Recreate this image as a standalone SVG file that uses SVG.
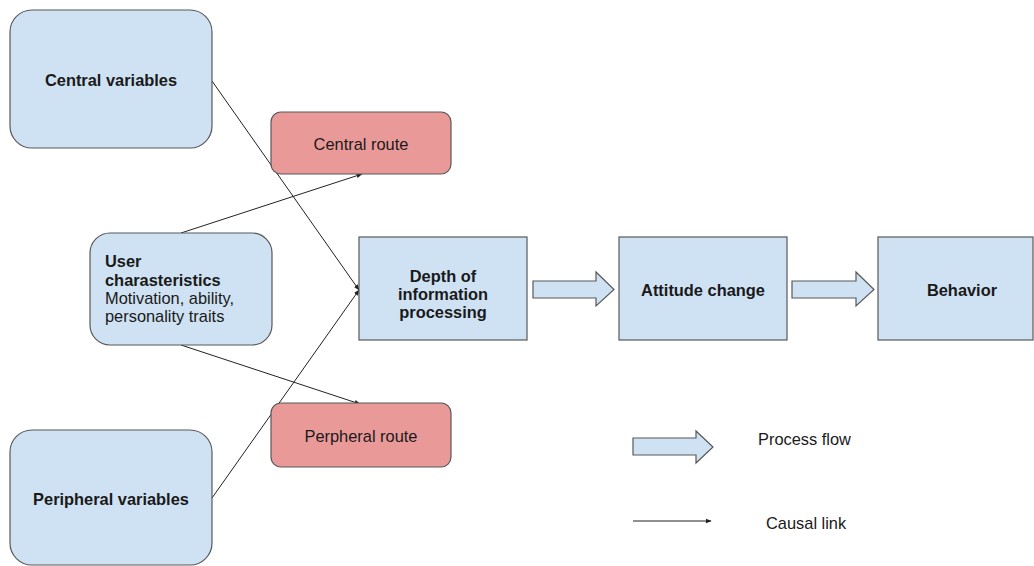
<svg xmlns="http://www.w3.org/2000/svg" width="1034" height="566" viewBox="0 0 1034 566">
  <style>
    .blue { fill: #cfe2f3; stroke: #595959; stroke-width: 1.2; }
    .red { fill: #ea9999; stroke: #595959; stroke-width: 1.2; }
    .b { font-family: "Liberation Sans", Arial, sans-serif; font-size: 16.4px; font-weight: bold; fill: #1a1a1a; }
    .r { font-family: "Liberation Sans", Arial, sans-serif; font-size: 16.4px; fill: #1a1a1a; }
    .link { stroke: #222; stroke-width: 1; fill: none; marker-end: url(#tip); }
  </style>
  <defs>
    <marker id="tip" viewBox="0 0 10 10" refX="9" refY="5" markerWidth="6" markerHeight="6" markerUnits="userSpaceOnUse" orient="auto">
      <path d="M0,1 L10,5 L0,9 z" fill="#222"/>
    </marker>
  </defs>
  <rect width="1034" height="566" fill="#ffffff"/>

  <g id="connectors">
    <line class="link" x1="212" y1="81" x2="359" y2="290"/>
    <line class="link" x1="181" y1="233" x2="362" y2="174"/>
    <line class="link" x1="181" y1="345" x2="360" y2="404"/>
    <line class="link" x1="212" y1="498" x2="359" y2="290"/>
    <path class="blue" d="M533,281 H596 V272 L614,289.5 L596,306 V298 H533 Z"/>
    <path class="blue" d="M792,281 H856 V272 L874,289.5 L856,306 V298 H792 Z"/>
  </g>

  <g id="central-variables">
    <rect class="blue" x="10" y="10" width="202" height="138" rx="22"/>
    <text class="b" x="111" y="86" text-anchor="middle">Central variables</text>
  </g>
  <g id="central-route">
    <rect class="red" x="271" y="112" width="180" height="62" rx="10"/>
    <text class="r" x="361" y="150" text-anchor="middle">Central route</text>
  </g>
  <g id="user-characteristics">
    <rect class="blue" x="90" y="233" width="182" height="112" rx="20"/>
    <text class="b" x="105" y="267">User</text>
    <text class="b" x="105" y="285.5">charasteristics</text>
    <text class="r" x="105" y="303.5">Motivation, ability,</text>
    <text class="r" x="105" y="321.5">personality traits</text>
  </g>
  <g id="depth">
    <rect class="blue" x="359" y="237" width="168" height="103"/>
    <text class="b" x="443" y="282" text-anchor="middle">Depth of</text>
    <text class="b" x="443" y="300" text-anchor="middle">information</text>
    <text class="b" x="443" y="318" text-anchor="middle">processing</text>
  </g>
  <g id="attitude">
    <rect class="blue" x="619" y="237" width="168" height="103"/>
    <text class="b" x="703" y="296" text-anchor="middle">Attitude change</text>
  </g>
  <g id="behavior">
    <rect class="blue" x="878" y="237" width="155" height="103"/>
    <text class="b" x="962" y="296" text-anchor="middle">Behavior</text>
  </g>
  <g id="peripheral-route">
    <rect class="red" x="271" y="403" width="180" height="64" rx="10"/>
    <text class="r" x="361" y="442" text-anchor="middle">Perpheral route</text>
  </g>
  <g id="peripheral-variables">
    <rect class="blue" x="10" y="430" width="202" height="135" rx="22"/>
    <text class="b" x="111" y="505" text-anchor="middle">Peripheral variables</text>
  </g>

  <g id="legend">
    <path class="blue" d="M633,438 H696 V431 L713,447 L696,463 V455 H633 Z"/>
    <text class="r" x="758" y="445">Process flow</text>
    <line class="link" x1="633" y1="521" x2="711" y2="521"/>
    <text class="r" x="766" y="529">Causal link</text>
  </g>
</svg>
